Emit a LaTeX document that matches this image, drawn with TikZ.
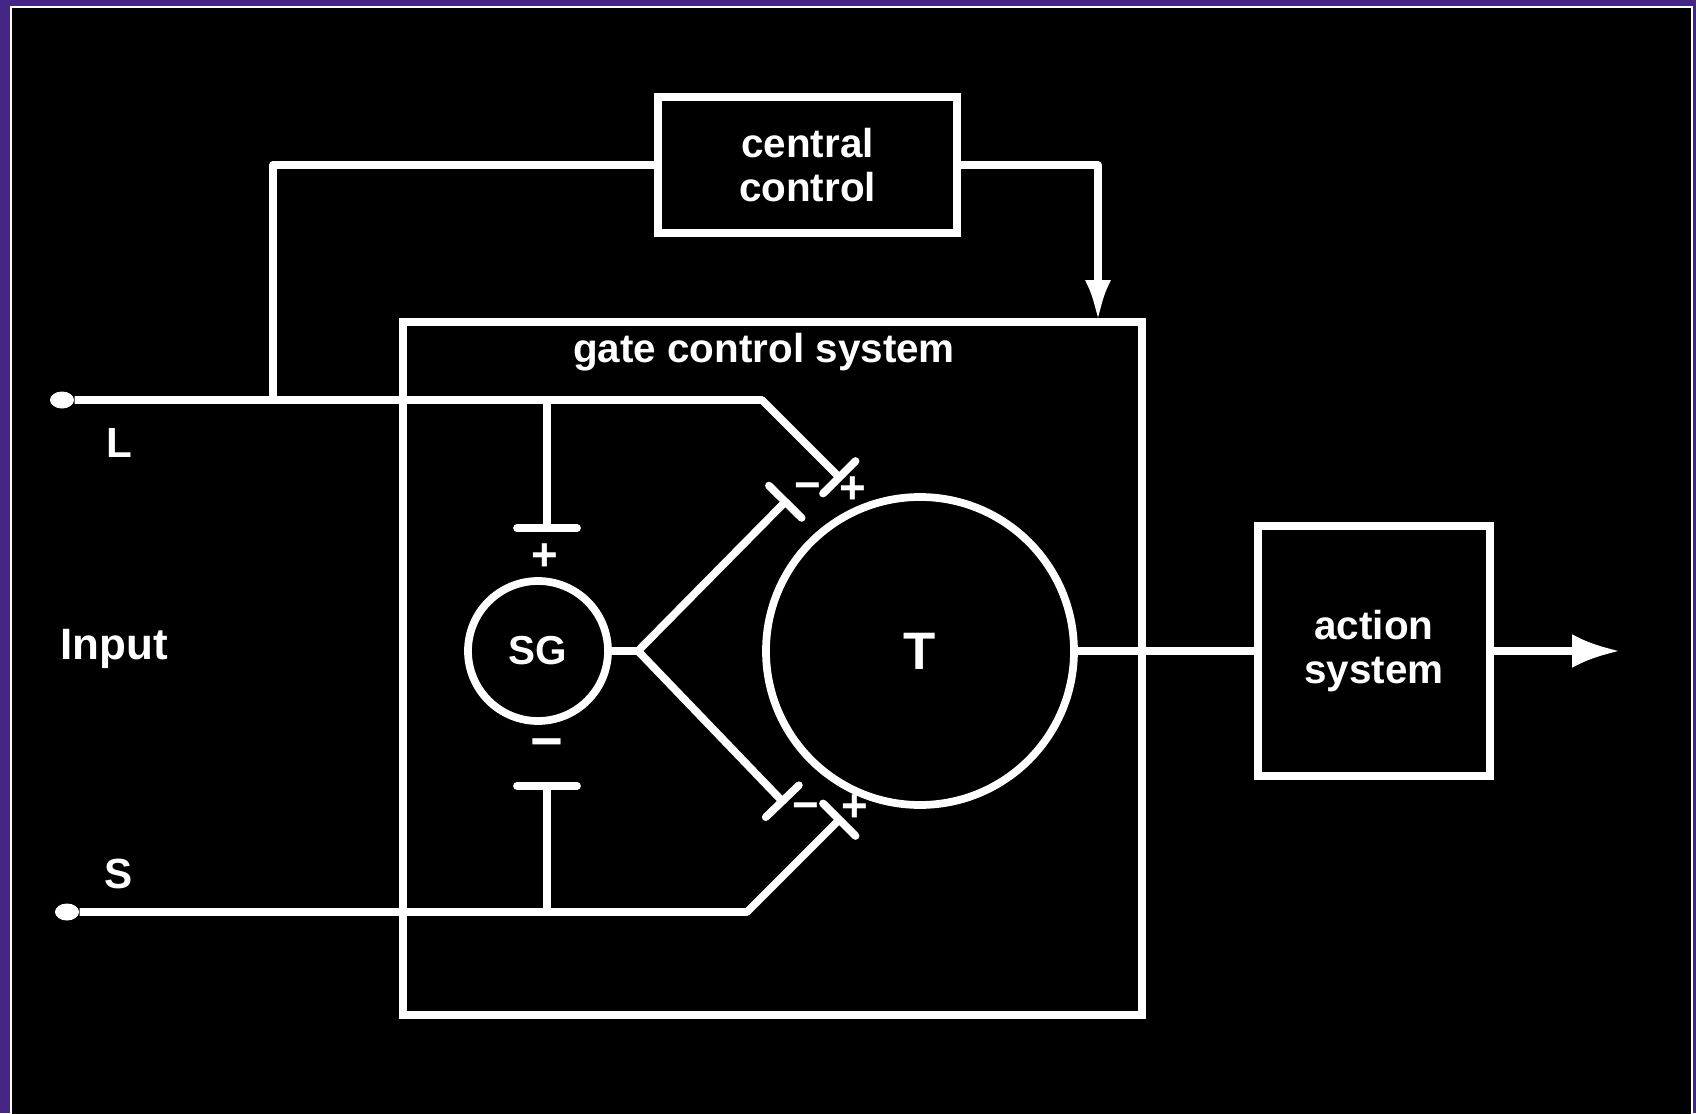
\documentclass[tikz,border=0pt]{standalone}
\usepackage{fontspec}
\setmainfont{Liberation Sans}
\usetikzlibrary{arrows.meta,shapes.geometric}
\definecolor{slidepurple}{RGB}{69,38,135}
\begin{document}
\begin{tikzpicture}[every node/.style={font=\bfseries\fontsize{11.5}{12.5}\selectfont, text=white}, wire/.style={draw=white, line width=2.2pt, line join=round}, box/.style={draw=white, line width=2.2pt, align=center}, neuron/.style={draw=white, line width=2.2pt, circle, inner sep=0pt}, dot/.style={ellipse, fill=white, inner sep=0pt, minimum width=0.24cm, minimum height=0.17cm}, syn/.style={wire, -{Bar[width=0.46cm, round]}}, polar/.style={font=\bfseries\fontsize{13}{13}\selectfont, inner sep=0pt}]
\useasboundingbox (0,0) rectangle (16.96,11.13);
\fill[slidepurple] (0,0) rectangle (16.96,11.13);
\filldraw[fill=black, draw=white, line width=0.4pt] (0.11,-0.2) rectangle (16.92,11.06);
\node[box, minimum width=2.99cm, minimum height=1.36cm] (ctl) at (8.075,9.48) {central\\control};
\node[box, minimum width=7.39cm, minimum height=6.93cm] (gcs) at (7.725,4.445) {};
\node (gcslbl) at (7.64,7.61) {gate control system};
\node[box, minimum width=2.32cm, minimum height=2.50cm] (act) at (13.74,4.62) {action\\system};
\node[neuron, minimum size=1.40cm] (SG) at (5.38,4.62) {SG};
\node[neuron, minimum size=3.08cm, font=\bfseries\fontsize{15}{15}\selectfont] (T) at (9.20,4.62) {T};
\node[dot] (inL) at (0.62,7.13) {};
\node[dot] (inS) at (0.67,2.01) {};
\node[font=\bfseries\fontsize{12}{12}\selectfont] (lblL) at (1.19,6.70) {L};
\node[font=\bfseries\fontsize{12.5}{12.5}\selectfont] (lblin) at (1.14,4.64) {Input};
\node[font=\bfseries\fontsize{12}{12}\selectfont] (lblS) at (1.19,2.39) {S};
\coordinate (tapC) at (2.73,7.13);
\coordinate (fbin) at (10.98,7.91);
\coordinate (bendL) at (7.62,7.13);
\coordinate (synL) at (8.42,6.33);
\coordinate (bendS) at (7.47,2.01);
\coordinate (synS) at (8.42,2.96);
\coordinate (fork) at (6.38,4.62);
\coordinate (synSGu) at (7.88,6.14);
\coordinate (synSGd) at (7.85,3.09);
\coordinate (tapLsg) at (5.47,7.13);
\coordinate (synSGt) at (5.47,5.81);
\coordinate (tapSsg) at (5.47,2.01);
\coordinate (synSGb) at (5.47,3.31);
\coordinate (out) at (16.20,4.62);
\draw[syn] (inL) -- (bendL) -- (synL);
\draw[syn] (inS) -- (bendS) -- (synS);
\draw[wire] (tapC) |- (ctl.west);
\draw[wire, -{Latex[length=0.42cm, width=0.26cm]}] (ctl.east) -| (fbin);
\draw[syn, -{Bar[width=0.6cm, round]}] (tapLsg) -- (synSGt);
\draw[syn, -{Bar[width=0.6cm, round]}] (tapSsg) -- (synSGb);
\draw[wire] (SG) -- (fork);
\draw[syn] (fork) -- (synSGu);
\draw[syn] (fork) -- (synSGd);
\draw[wire] (T) -- (act);
\draw[wire, -{Latex[length=0.48cm, width=0.34cm]}] (act) -- (out);
\node[polar] (pSGt) at (5.45,5.56) {+};
\node[polar, font=\bfseries\fontsize{16}{16}\selectfont] (mSGb) at (5.47,3.63) {−};
\node[polar] (mTu) at (8.08,6.21) {−};
\node[polar] (pTu) at (8.53,6.23) {+};
\node[polar] (mTd) at (8.06,3.01) {−};
\node[polar] (pTd) at (8.55,3.05) {+};
\end{tikzpicture}
\end{document}
